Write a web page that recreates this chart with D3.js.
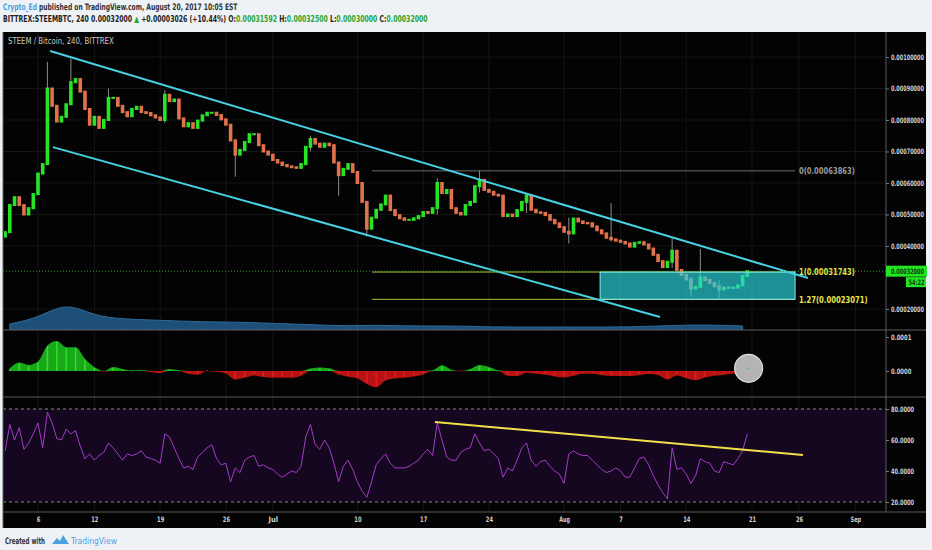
<!DOCTYPE html>
<html>
<head>
<meta charset="utf-8">
<script src="https://cdn.jsdelivr.net/npm/d3@7"></script>
<style>
body { margin: 0; background: #eef2f6; }
svg { display: block; }
</style>
</head>
<body>
<div id="chart"></div>
<script>
// 12h candles, closes in 1e-6 BTC, first one at 2017-06-02 12:00
const candleStart = Date.UTC(2017, 5, 2, 12);
const firstOpen = 430;
const closes = [
    444, 530, 555, 530, 500, 520, 565, 630, 660, 900,
    845, 795, 810, 850, 920, 930, 890, 835, 785, 810,
    775, 800, 870, 870, 845, 825, 812, 835, 842, 825,
    822, 815, 808, 800, 880, 860, 865, 805, 780, 790,
    775, 798, 815, 823, 823, 816, 802, 785, 735, 690,
    705, 730, 755, 755, 720, 700, 690, 673, 665, 657,
    653, 650, 648, 660, 715, 740, 725, 715, 725, 720,
    665, 625, 645, 660, 635, 600, 540, 455, 490, 515,
    532, 560, 514, 498, 488, 483, 483, 488, 495, 508,
    505, 520, 600, 568, 578, 520, 505, 500, 530, 540,
    590, 610, 578, 572, 563, 560, 495, 500, 495, 514,
    540, 560, 515, 507, 505, 498, 483, 472, 460, 445,
    440, 487, 478, 473, 472, 462, 450, 440, 426, 421,
    417, 413, 408, 398, 410, 412, 405, 392, 372, 352,
    333, 350, 385, 324, 308, 294, 265, 270, 300, 292,
    283, 272, 262, 268, 267, 268, 275, 305, 320
];
// [candle index, high, low] in 1e-6 BTC
const wicks = [
    [9, 985, 880], [14, 995, 900], [22, 900, 860], [34, 895, 790],
    [49, 740, 620], [65, 750, 700], [71, 650, 560], [77, 540, 430],
    [92, 615, 500], [101, 640, 570], [111, 568, 505], [120, 490, 408],
    [129, 536, 415], [142, 425, 330], [146, 300, 238], [148, 390, 280],
    [152, 290, 235]
];
// RSI, same 12h timestamps as the candles
const rsiValues = [
    53, 70, 60, 68, 54, 58, 64, 71, 55, 78,
    71, 61, 60, 67, 64, 66, 56, 48, 51, 47,
    50, 52, 58, 55, 51, 47, 51, 50, 51, 53,
    49, 48, 47, 45, 64, 62, 55, 48, 42, 43,
    41, 49, 52, 55, 57, 48, 44, 45, 33, 42,
    39, 47, 49, 50, 43, 44, 42, 41, 38, 36,
    38, 40, 39, 43, 62, 70, 57, 54, 60, 55,
    45, 33, 43, 47, 41, 33, 27, 23, 33, 44,
    48, 51, 45, 42, 42, 42, 43, 45, 47, 51,
    54, 50, 71, 60, 49, 47, 47, 52, 54, 55,
    64, 58, 53, 54, 51, 48, 36, 42, 40, 47,
    55, 58, 47, 43, 46, 47, 43, 40, 38, 32,
    51, 53, 51, 50, 50, 47, 44, 41, 39, 40,
    42, 40, 36, 36, 42, 48, 49, 44, 37, 31,
    26, 22, 55, 41, 42, 38, 32, 37, 48, 46,
    45, 40, 39, 46, 45, 44, 48, 53, 64
];
// daily oscillator histogram, 1e-6 BTC, first at 2017-06-03
const histStart = Date.UTC(2017, 5, 3);
const histValues = [
    8, 25, 18, 28, 75, 88, 70, 70, 36, 12,
    -2, 12, 6, 2, 3, -3, -6, 6, 2, -8,
    -11, 0, -2, -7, -25, -20, -13, -18, -20, -20,
    -20, -14, 7, 10, 8, -10, -17, -22, -38, -48,
    -28, -22, -20, -16, -10, 2, 17, 4, -1, 6,
    18, 12, 2, -14, -15, -5, -8, -11, -16, -19,
    -14, -8, -8, -12, -15, -15, -15, -12, -9, -12,
    -25, -13, -21, -27, -19, -14, -11, -7, -2
];
// volume every 3 days, first at 2017-06-03
const volStart = Date.UTC(2017, 5, 3);
const volValues = [6, 12, 28, 14, 11, 10, 9, 8, 8, 7, 6, 5, 4, 5, 4, 4, 4, 3, 3, 3, 3, 3, 3, 4, 5, 5, 4];

// 0.0003 sits under the last-price tag, so it is left out
const priceTicks = [0.0002, 0.0004, 0.0005, 0.0006, 0.0007, 0.0008, 0.0009, 0.001];
const histTicks = [0, 0.0001];
const rsiTicks = [20, 40, 60, 80];
const dateTicks = [[2017, 5, 6], [2017, 5, 12], [2017, 5, 19], [2017, 5, 26], [2017, 6, 1], [2017, 6, 10],
    [2017, 6, 17], [2017, 6, 24], [2017, 7, 1], [2017, 7, 7], [2017, 7, 14], [2017, 7, 21], [2017, 7, 26], [2017, 8, 1]];
const dateLabels = ["6", "12", "19", "26", "Jul", "10", "17", "24", "Aug", "7", "14", "21", "26", "Sep"];

// drawings
const channelTop = [[Date.UTC(2017, 5, 7, 7), 0.001019], [Date.UTC(2017, 7, 26, 23), 0.0002984]];
const channelBottom = [[Date.UTC(2017, 5, 7, 14), 0.000714], [Date.UTC(2017, 7, 11, 5), 0.0001746]];
const fibLevels = ["0", "1", "1.27"];
const fibPrices = [0.00063863, 0.00031743, 0.00023071];
const fibStart = Date.UTC(2017, 6, 11, 13);
const fibEnd = Date.UTC(2017, 7, 25, 14);
const boxStart = Date.UTC(2017, 7, 4, 20);
const rsiTrend = [[Date.UTC(2017, 6, 18, 6), 71.6], [Date.UTC(2017, 7, 26, 10), 50.3]];
const lastPrice = 0.00032;
const countdown = "54:22";

const ctx = {
    w: 932, h: 550,
    left: 3, right: 926, axisX: 886,
    top: 32, mainBottom: 330, histBottom: 397, rsiBottom: 512, bottom: 528,
    up: "#27e427", down: "#e0734c", wick: "#8c8c8c",
    font: "'DejaVu Sans Condensed', 'Liberation Sans Narrow', Arial, sans-serif"
};

// squeeze a text horizontally to the width the reference shows
function squeeze(node, target) {
    const len = node.getComputedTextLength();
    if (!len) return;
    const s = Math.min(1, target / len);
    const x0 = +node.getAttribute("x") || 0;
    d3.select(node).attr("transform",
        "translate(" + x0 + ",0) scale(" + s + ",1) translate(" + (-x0) + ",0)");
}
function fit(sel, perChar) {
    sel.each(function () { squeeze(this, this.textContent.length * perChar); });
}

const svg = d3.select("#chart").append("svg").attr("width", ctx.w).attr("height", ctx.h);

// header
const head = svg.append("g").style("font-family", ctx.font).style("font-weight", "bold").style("font-size", "9px");
let l1 = head.append("text").attr("x", 3).attr("y", 10).attr("fill", "#333");
l1.append("tspan").attr("fill", "#4aa3df").text("Crypto_Ed");
l1.append("tspan").text(" published on TradingView.com, August 20, 2017 10:05 EST");
let l2 = head.append("text").attr("x", 3).attr("y", 22).attr("fill", "#222");
l2.append("tspan").text("BITTREX:STEEMBTC, 240  0.00032000 ");
l2.append("tspan").attr("fill", "#2ca52c").text("\u25B2");
l2.append("tspan").text(" +0.00003026 (+10.44%) O:");
l2.append("tspan").attr("fill", "#2ca52c").text("0.00031592");
l2.append("tspan").text(" H:");
l2.append("tspan").attr("fill", "#2ca52c").text("0.00032500");
l2.append("tspan").text(" L:");
l2.append("tspan").attr("fill", "#2ca52c").text("0.00030000");
l2.append("tspan").text(" C:");
l2.append("tspan").attr("fill", "#2ca52c").text("0.00032000");
squeeze(l1.node(), 235);
squeeze(l2.node(), 425);

// chart background
svg.append("rect").attr("x", ctx.left).attr("y", ctx.top)
    .attr("width", ctx.right - ctx.left).attr("height", ctx.bottom - ctx.top).attr("fill", "#030303");

// scales
const x = d3.scaleUtc().domain([Date.UTC(2017, 5, 6), Date.UTC(2017, 7, 21)]).range([38, 752]);
const y = d3.scaleLinear().domain([0.0002, 0.001]).range([309, 57]);
const yVol = d3.scaleLinear().domain([0, 30]).range([ctx.mainBottom, ctx.mainBottom - 30]);
const yHist = d3.scaleLinear().domain([0, 0.0001]).range([371, 337]);
const yRsi = d3.scaleLinear().domain([20, 80]).range([502, 409]);
const tickDates = dateTicks.map(d => new Date(Date.UTC(d[0], d[1], d[2])));

const defs = svg.append("defs");
function clip(id, y0, y1) {
    defs.append("clipPath").attr("id", id).append("rect")
        .attr("x", ctx.left + 1).attr("y", y0).attr("width", ctx.axisX - ctx.left - 1).attr("height", y1 - y0);
}
clip("clipMain", ctx.top, ctx.mainBottom);
clip("clipHist", ctx.mainBottom, ctx.histBottom);
clip("clipRsi", ctx.histBottom, ctx.rsiBottom);

// grid
const grid = svg.append("g").attr("stroke", "#151515").attr("stroke-width", 1);
grid.selectAll("line.v").data(tickDates).enter().append("line")
    .attr("x1", d => x(d)).attr("x2", d => x(d)).attr("y1", ctx.top).attr("y2", ctx.rsiBottom);
grid.selectAll("line.h").data(priceTicks).enter().append("line")
    .attr("x1", ctx.left).attr("x2", ctx.axisX).attr("y1", d => y(d)).attr("y2", d => y(d));

// ---- main pane
const mainG = svg.append("g").attr("clip-path", "url(#clipMain)");
let title = mainG.append("text").attr("x", 8).attr("y", 44).attr("fill", "#c8c8c8")
    .style("font-family", ctx.font).style("font-size", "8.5px")
    .text("STEEM / Bitcoin, 240, BITTREX");
squeeze(title.node(), 106);

// volume
const volData = volValues.map((v, i) => ({t: new Date(volStart + i * 3 * 864e5), v: v}));
mainG.append("path").datum(volData)
    .attr("fill", "#1e4f78").attr("stroke", "#2c6a9a").attr("stroke-width", 1)
    .attr("d", d3.area().curve(d3.curveBasis).x(d => x(d.t)).y0(ctx.mainBottom).y1(d => yVol(d.v)));

// candles
const candles = closes.map((c, i) => ({
    t: new Date(candleStart + i * 12 * 3600e3),
    open: (i === 0 ? firstOpen : closes[i - 1]) * 1e-6,
    close: c * 1e-6
}));
mainG.append("g").selectAll("line").data(wicks).enter().append("line")
    .attr("x1", d => x(candles[d[0]].t)).attr("x2", d => x(candles[d[0]].t))
    .attr("y1", d => y(d[1] * 1e-6)).attr("y2", d => y(d[2] * 1e-6))
    .attr("stroke", ctx.wick).attr("stroke-width", 1);
mainG.append("g").selectAll("rect").data(candles).enter().append("rect")
    .attr("x", d => x(d.t) - 1.8).attr("width", 3.6)
    .attr("y", d => y(Math.max(d.open, d.close)) - 1)
    .attr("height", d => Math.abs(y(d.open) - y(d.close)) + 2)
    .attr("fill", d => d.close >= d.open ? ctx.up : ctx.down);

// fib levels + box
mainG.append("g").selectAll("line").data(fibPrices).enter().append("line")
    .attr("x1", x(fibStart)).attr("x2", x(fibEnd))
    .attr("y1", d => y(d)).attr("y2", d => y(d))
    .attr("stroke", (d, i) => i === 0 ? "#6e6e6e" : "#b9c43a").attr("stroke-width", 1);
mainG.append("rect")
    .attr("x", x(boxStart)).attr("width", x(fibEnd) - x(boxStart))
    .attr("y", y(fibPrices[1])).attr("height", y(fibPrices[2]) - y(fibPrices[1]))
    .attr("fill", "#2ad4dc").attr("fill-opacity", 0.68)
    .attr("stroke", "#8eeaea").attr("stroke-width", 1);
svg.append("g").selectAll("text").data(fibPrices).enter().append("text")
    .attr("x", x(fibEnd) + 4).attr("y", d => y(d) + 3.5)
    .attr("fill", (d, i) => i === 0 ? "#9a9a9a" : "#e6e64a")
    .style("font-family", ctx.font).style("font-size", "9px").style("font-weight", "bold")
    .text((d, i) => fibLevels[i] + "(" + d3.format(".8f")(d) + ")")
    .call(fit, 4.3);

// channel
const line = d3.line().x(d => x(new Date(d[0]))).y(d => y(d[1]));
[channelTop, channelBottom].forEach(c => {
    svg.append("path").datum(c).attr("d", line)
        .attr("stroke", "#46d2e2").attr("stroke-width", 2).attr("fill", "none");
});

// last price line
svg.append("line").attr("x1", ctx.left).attr("x2", ctx.axisX)
    .attr("y1", y(lastPrice)).attr("y2", y(lastPrice))
    .attr("stroke", "#2f9a2f").attr("stroke-dasharray", "1,2");

// ---- histogram pane
const histG = svg.append("g").attr("clip-path", "url(#clipHist)");
const histData = histValues.map((v, i) => ({t: new Date(histStart + i * 864e5), v: v * 1e-6}));
const histArea = d3.area().curve(d3.curveMonotoneX).x(d => x(d.t)).y0(yHist(0));
histG.append("path").datum(histData).attr("fill", "#1aa81a")
    .attr("d", histArea.y1(d => yHist(Math.max(0, d.v))));
histG.append("path").datum(histData).attr("fill", "#b81212")
    .attr("d", histArea.y1(d => yHist(Math.min(0, d.v))));
histG.append("g").selectAll("line").data(histData).enter().append("line")
    .attr("x1", d => x(d.t)).attr("x2", d => x(d.t))
    .attr("y1", yHist(0)).attr("y2", d => yHist(d.v) + (d.v > 0 ? 1 : -1))
    .attr("stroke", d => d.v > 0 ? "#2ee02e" : "#e01e1e").attr("stroke-width", 1.5);
const lastHist = histData[histData.length - 1];
histG.append("circle").attr("cx", x(lastHist.t) + 6).attr("cy", yHist(0.000008)).attr("r", 14)
    .attr("fill", "#b4b4b4").attr("stroke", "#e0e0e0").attr("stroke-width", 1.2);
histG.append("circle").attr("cx", x(lastHist.t) + 6).attr("cy", yHist(0.000008)).attr("r", 1)
    .attr("fill", "#3ad07a");

// ---- RSI pane
const rsiG = svg.append("g").attr("clip-path", "url(#clipRsi)");
rsiG.append("rect").attr("x", ctx.left).attr("width", ctx.axisX - ctx.left)
    .attr("y", yRsi(80)).attr("height", yRsi(20) - yRsi(80)).attr("fill", "#14071f");
rsiG.selectAll("line.band").data([20, 80]).enter().append("line")
    .attr("x1", ctx.left).attr("x2", ctx.axisX)
    .attr("y1", d => yRsi(d)).attr("y2", d => yRsi(d))
    .attr("stroke", "#8c8c8c").attr("stroke-dasharray", "3,3");
const rsiData = rsiValues.map((v, i) => ({t: candles[i].t, v: v}));
rsiG.append("path").datum(rsiData)
    .attr("d", d3.line().x(d => x(d.t)).y(d => yRsi(d.v)))
    .attr("stroke", "#a33cc6").attr("stroke-width", 1).attr("fill", "none");
rsiG.append("path").datum(rsiTrend)
    .attr("d", d3.line().x(d => x(new Date(d[0]))).y(d => yRsi(d[1])))
    .attr("stroke", "#f2df4a").attr("stroke-width", 2).attr("fill", "none");

// ---- separators
const sep = svg.append("g").attr("stroke", "#5c5c5c").attr("stroke-width", 1);
[ctx.mainBottom, ctx.histBottom, ctx.rsiBottom].forEach(v => {
    sep.append("line").attr("x1", ctx.left).attr("x2", ctx.right).attr("y1", v).attr("y2", v);
});
sep.append("line").attr("x1", ctx.axisX).attr("x2", ctx.axisX).attr("y1", ctx.top).attr("y2", ctx.rsiBottom);
sep.append("line").attr("x1", ctx.left).attr("x2", ctx.left).attr("y1", ctx.top).attr("y2", ctx.bottom);

// ---- axes
function styleAxis(g, perChar) {
    g.select(".domain").remove();
    g.selectAll("line").attr("stroke", "#777");
    g.selectAll("text").attr("fill", "#cfcfcf")
        .style("font-family", ctx.font).style("font-size", "7.5px").style("font-weight", "bold")
        .call(fit, perChar);
}
svg.append("g").attr("transform", "translate(" + ctx.axisX + ",0)")
    .call(d3.axisRight(y).tickValues(priceTicks).tickFormat(d3.format(".8f")).tickSize(3).tickPadding(2))
    .call(styleAxis, 3.3);
svg.append("g").attr("transform", "translate(" + ctx.axisX + ",0)")
    .call(d3.axisRight(yHist).tickValues(histTicks).tickFormat(d3.format(".4f")).tickSize(3).tickPadding(2))
    .call(styleAxis, 3.4);
svg.append("g").attr("transform", "translate(" + ctx.axisX + ",0)")
    .call(d3.axisRight(yRsi).tickValues(rsiTicks).tickFormat(d3.format(".4f")).tickSize(3).tickPadding(2))
    .call(styleAxis, 3.3);
svg.append("g").attr("transform", "translate(0," + ctx.rsiBottom + ")")
    .call(d3.axisBottom(x).tickValues(tickDates).tickFormat((d, i) => dateLabels[i]).tickSize(0).tickPadding(5))
    .call(styleAxis, 3.6);

// last price tag + countdown
const tag = svg.append("g").style("font-family", ctx.font).style("font-weight", "bold").style("font-size", "7.5px");
tag.append("rect").attr("x", ctx.axisX).attr("y", y(lastPrice) - 5.5).attr("width", 41).attr("height", 11).attr("fill", "#22e622");
tag.append("text").attr("x", ctx.axisX + 5).attr("y", y(lastPrice) + 3).attr("fill", "#0a3a0a")
    .text(d3.format(".8f")(lastPrice)).call(fit, 3.3);
tag.append("rect").attr("x", 906).attr("y", y(lastPrice) + 6).attr("width", 20).attr("height", 10).attr("fill", "#22e622");
tag.append("text").attr("x", 908.5).attr("y", y(lastPrice) + 14).attr("fill", "#0a3a0a").text(countdown).call(fit, 3.2);

// footer
const foot = svg.append("g").attr("transform", "translate(5,540)")
    .style("font-family", ctx.font).style("font-size", "9px").style("font-weight", "bold");
let made = foot.append("text").attr("x", 0).attr("y", 3.5).attr("fill", "#333").text("Created with");
squeeze(made.node(), 40);
foot.append("path").attr("transform", "translate(47,-5)")
    .attr("d", "M0,9 L5,3 L8,6 L11,0 L17,9 Z").attr("fill", "#4aa3df");
let brand = foot.append("text").attr("x", 66).attr("y", 3.5).attr("fill", "#4aa3df")
    .style("font-weight", "normal").text("TradingView");
squeeze(brand.node(), 46);
</script>
</body>
</html>
